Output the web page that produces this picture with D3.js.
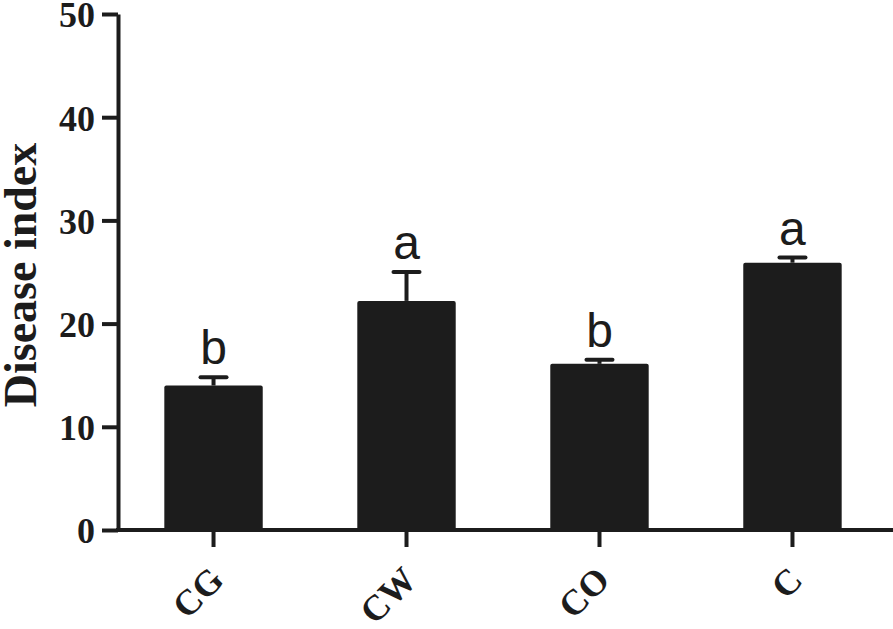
<!DOCTYPE html>
<html>
<head>
<meta charset="utf-8">
<script src="https://cdn.jsdelivr.net/npm/d3@7"></script>
<style>
  html, body { margin: 0; padding: 0; background: #fff; }
  svg { display: block; }
  .tick text { font-family: "Liberation Serif", "Times New Roman", serif; font-weight: bold; }
</style>
</head>
<body>
<div id="chart"></div>
<script>
// Values
var categories = ['CG', 'CW', 'CO', 'C'];
var means      = [14.0, 22.2, 16.1, 25.9];
var errors     = [0.8, 2.8, 0.4, 0.5];
var letters    = ['b', 'a', 'b', 'a'];
var yTicks     = [0, 10, 20, 30, 40, 50];

var width  = 893,
    height = 629,
    ink    = '#1c1c1c';

var svg = d3.select('#chart')
            .append('svg')
            .attr('width', width)
            .attr('height', height);

var x = d3.scaleBand()
          .domain(categories)
          .range([118, 888])
          .paddingInner(0.49)
          .paddingOuter(0.24);

var y = d3.scaleLinear()
          .domain([0, 50])
          .range([530, 14]);

// bars
svg.append('g')
   .selectAll('rect')
   .data(means)
   .enter()
   .append('rect')
   .attr('x', function(d, i) { return x(categories[i]); })
   .attr('y', function(d) { return y(d); })
   .attr('width', x.bandwidth())
   .attr('height', function(d) { return y(0) - y(d); })
   .attr('rx', 2)
   .attr('fill', ink);

// error bars (upper only)
var err = svg.append('g')
             .attr('stroke', ink)
             .attr('stroke-width', 4);

err.selectAll('line.stem')
   .data(means)
   .enter()
   .append('line')
   .attr('class', 'stem')
   .attr('x1', function(d, i) { return x(categories[i]) + x.bandwidth() / 2; })
   .attr('x2', function(d, i) { return x(categories[i]) + x.bandwidth() / 2; })
   .attr('y1', function(d) { return y(d); })
   .attr('y2', function(d, i) { return y(d + errors[i]); });

err.selectAll('line.cap')
   .data(means)
   .enter()
   .append('line')
   .attr('class', 'cap')
   .attr('stroke-linecap', 'round')
   .attr('x1', function(d, i) { return x(categories[i]) + x.bandwidth() / 2 - 13; })
   .attr('x2', function(d, i) { return x(categories[i]) + x.bandwidth() / 2 + 13; })
   .attr('y1', function(d, i) { return y(d + errors[i]); })
   .attr('y2', function(d, i) { return y(d + errors[i]); });

// significance letters
svg.append('g')
   .selectAll('text')
   .data(letters)
   .enter()
   .append('text')
   .attr('x', function(d, i) { return x(categories[i]) + x.bandwidth() / 2; })
   .attr('y', function(d, i) { return y(means[i] + errors[i]) - 13; })
   .attr('text-anchor', 'middle')
   .attr('font-family', '"Liberation Sans", Arial, sans-serif')
   .attr('font-size', 48)
   .attr('fill', ink)
   .text(function(d) { return d; });

// y axis
var yAxis = svg.append('g')
               .attr('transform', 'translate(118,0)')
               .call(d3.axisLeft(y).tickValues(yTicks).tickSize(16).tickPadding(7).tickSizeOuter(0));

yAxis.select('.domain').attr('stroke', ink).attr('stroke-width', 4);
yAxis.selectAll('.tick line').attr('stroke', ink).attr('stroke-width', 4);
yAxis.selectAll('.tick text')
     .attr('font-size', 36)
     .attr('fill', ink)
     .attr('dy', '0.36em');

// x axis
var xAxis = svg.append('g')
               .attr('transform', 'translate(0,530)')
               .call(d3.axisBottom(x).tickSize(17).tickSizeOuter(0));

xAxis.select('.domain').attr('stroke', ink).attr('stroke-width', 4)
     .attr('d', 'M116,0H893');
xAxis.selectAll('.tick line').attr('stroke', ink).attr('stroke-width', 4);
xAxis.selectAll('.tick text')
     .attr('font-size', 36)
     .attr('fill', ink)
     .attr('text-anchor', 'end')
     .attr('dy', 0)
     .attr('y', 0)
     .attr('transform', 'translate(12,52) rotate(-45)');

// y axis title
svg.append('text')
   .attr('transform', 'translate(36,275) rotate(-90)')
   .attr('text-anchor', 'middle')
   .attr('font-family', '"Liberation Serif", "Times New Roman", serif')
   .attr('font-weight', 'bold')
   .attr('font-size', 46)
   .attr('fill', ink)
   .text('Disease index');
</script>
</body>
</html>
